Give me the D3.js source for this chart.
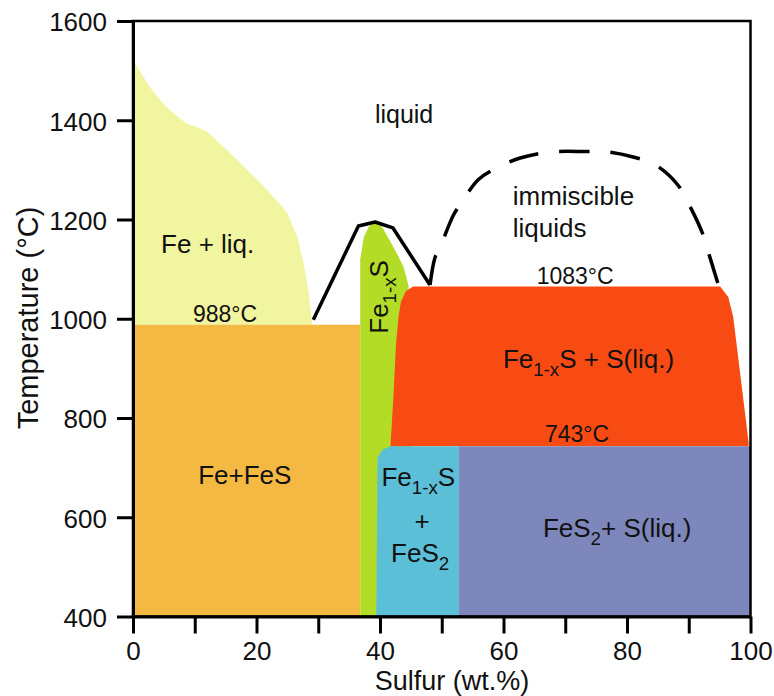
<!DOCTYPE html>
<html>
<head>
<meta charset="utf-8">
<script src="https://cdn.jsdelivr.net/npm/d3@7"></script>
<style>
  body { margin: 0; background: #fff; }
  svg text { font-family: "Liberation Sans", Arial, sans-serif; fill: #111; }
</style>
</head>
<body>
<svg id="chart" width="774" height="696"></svg>
<script>
// phase fields, points are [S wt.%, T °C]
const feLiquid = [[0, 988], [0, 1521], [2.7, 1467], [5.4, 1426], [8.6, 1394], [10.8, 1384], [12, 1377],
  [15.2, 1340], [18.5, 1300], [20.6, 1274], [22.7, 1246], [25, 1213], [26.6, 1165], [27.6, 1113],
  [28.4, 1058], [29, 992], [29, 988]];
const feFeS = [[0, 400], [36.8, 400], [36.8, 988], [0, 988]];
const pyrrhotite = [[36.8, 400], [36.8, 1120], [37.4, 1165], [38.2, 1186], [39.2, 1195], [40.2, 1188],
  [41.7, 1155], [43, 1125], [43.8, 1105], [44.6, 1068], [45, 1000], [45, 400]];
const pyrrhotiteLiq = [[45.4, 1065], [95.1, 1065], [96.4, 1044], [97.2, 1004], [99.7, 750], [99.7, 743],
  [41.7, 743], [42.2, 850], [42.6, 950], [43, 1004], [43.4, 1035], [44.2, 1056]];
const pyrrhotitePyrite = [[39.4, 400], [52.8, 400], [52.8, 743], [41.7, 743], [40.4, 736], [39.6, 720]];
const pyriteLiq = [[52.8, 400], [100, 400], [100, 743], [52.8, 743]];

const liquidus = [[29.2, 998], [36.5, 1187], [39.2, 1195], [42.1, 1183], [48.1, 1068]];
const miscibilityGap = [[48.1, 1068], [48.9, 1123], [49.7, 1143], [51.9, 1209], [53.3, 1236], [55.9, 1280],
  [58.3, 1300], [62.7, 1324], [67.6, 1336], [73.3, 1337], [77, 1336], [81, 1326], [84.6, 1310],
  [88.2, 1270], [90.3, 1224], [92.2, 1173], [93.2, 1133], [94.7, 1072]];

const xTicks = d3.range(0, 101, 10);
const xTickLabels = [0, 20, 40, 60, 80, 100];
const yTicks = [400, 600, 800, 1000, 1200, 1400, 1600];

const fields = [
  { pts: feLiquid, color: '#f1f59f' },
  { pts: feFeS, color: '#f4b942' },
  { pts: pyrrhotite, color: '#b2dc26' },
  { pts: pyrrhotiteLiq, color: '#f84b13' },
  { pts: pyrrhotitePyrite, color: '#5cbfd8' },
  { pts: pyriteLiq, color: '#7d87bb' }
];

// label text, sub = subscript part
const labels = [
  { parts: [['liquid']], at: [43.9, 1394], size: 25, anchor: 'middle' },
  { parts: [['immiscible']], at: [61.5, 1229], size: 26, anchor: 'start' },
  { parts: [['liquids']], at: [61.5, 1164], size: 26, anchor: 'start' },
  { parts: [['Fe + liq.']], at: [12.1, 1132], size: 26, anchor: 'middle' },
  { parts: [['988°C']], at: [14.9, 993], size: 23, anchor: 'middle' },
  { parts: [['1083°C']], at: [71.6, 1070], size: 23, anchor: 'middle' },
  { parts: [['743°C']], at: [71.9, 751], size: 23, anchor: 'middle' },
  { parts: [['Fe'], ['1-x', 1], ['S + S(liq.)']], at: [59.9, 900], size: 26, anchor: 'start' },
  { parts: [['Fe+FeS']], at: [18.1, 667], size: 26, anchor: 'middle' },
  { parts: [['Fe'], ['1-x', 1], ['S']], at: [46.2, 663], size: 26, anchor: 'middle' },
  { parts: [['+']], at: [46.8, 574], size: 26, anchor: 'middle' },
  { parts: [['FeS'], ['2', 1]], at: [46.5, 510], size: 26, anchor: 'middle' },
  { parts: [['FeS'], ['2', 1], ['+ S(liq.)']], at: [78.4, 560], size: 26, anchor: 'middle' },
  { parts: [['Fe'], ['1-x', 1], ['S']], at: [41.3, 1044], size: 26, anchor: 'middle', rotate: true }
];

const margin = { top: 21, left: 133, right: 23.5, bottom: 79.5 };
const width = 774 - margin.left - margin.right;
const height = 696 - margin.top - margin.bottom;

const svg = d3.select('#chart');
const g = svg.append('g').attr('transform', `translate(${margin.left},${margin.top})`);

const x = d3.scaleLinear().domain([0, 100]).range([0, width]);
const y = d3.scaleLinear().domain([400, 1600]).range([height, 0]);

const area = d3.line().x(d => x(d[0])).y(d => y(d[1]));

g.selectAll('path.field')
  .data(fields)
  .enter().append('path')
  .attr('class', 'field')
  .attr('d', d => area(d.pts) + 'Z')
  .attr('fill', d => d.color);

g.append('path')
  .datum(liquidus)
  .attr('fill', 'none')
  .attr('stroke', '#000')
  .attr('stroke-width', 3.5)
  .attr('stroke-linejoin', 'round')
  .attr('d', area);

const dome = g.append('path')
  .datum(miscibilityGap)
  .attr('fill', 'none')
  .attr('stroke', '#000')
  .attr('stroke-width', 3.5)
  .attr('d', d3.line().x(d => x(d[0])).y(d => y(d[1])).curve(d3.curveCatmullRom));
const domeLen = dome.node().getTotalLength();
const dash = domeLen / (9 + 8 * 0.7);
dome.attr('stroke-dasharray', `${dash},${dash * 0.7}`);

// labels
labels.forEach(l => {
  const px = x(l.at[0]), py = y(l.at[1]);
  const t = g.append('text')
    .attr('font-size', l.size)
    .attr('text-anchor', l.anchor);
  if (l.rotate) t.attr('transform', `translate(${px},${py}) rotate(-90)`);
  else t.attr('x', px).attr('y', py);
  let shift = 0;
  l.parts.forEach(p => {
    const sub = p[1] === 1;
    const want = sub ? 8 : 0;
    t.append('tspan')
      .attr('font-size', sub ? l.size * 0.72 : l.size)
      .attr('dy', want - shift)
      .text(p[0]);
    shift = want;
  });
});

// frame
g.append('rect')
  .attr('width', width).attr('height', height)
  .attr('fill', 'none').attr('stroke', '#000').attr('stroke-width', 2.5);

const xAxis = g.append('g')
  .attr('transform', `translate(0,${height})`)
  .call(d3.axisBottom(x).tickValues(xTicks).tickSize(17).tickSizeOuter(0)
    .tickFormat(d => xTickLabels.includes(d) ? d : ''));
xAxis.selectAll('line').attr('stroke-width', 3);
xAxis.select('.domain').attr('stroke-width', 3);
xAxis.selectAll('text').attr('font-size', 26).attr('y', 25).attr('dy', '0.71em')
  .attr('fill', '#111').attr('font-family', '"Liberation Sans", Arial, sans-serif');

const yAxis = g.append('g')
  .call(d3.axisLeft(y).tickValues(yTicks).tickSize(16).tickSizeOuter(0).tickFormat(d3.format('d')));
yAxis.selectAll('line').attr('stroke-width', 3);
yAxis.select('.domain').attr('stroke-width', 3);
yAxis.selectAll('text').attr('font-size', 26).attr('x', -26).attr('dy', '0.38em')
  .attr('fill', '#111').attr('font-family', '"Liberation Sans", Arial, sans-serif');

svg.append('text')
  .attr('x', 452).attr('y', 690)
  .attr('text-anchor', 'middle')
  .attr('font-size', 27)
  .text('Sulfur (wt.%)');

svg.append('text')
  .attr('transform', 'translate(38,318) rotate(-90)')
  .attr('text-anchor', 'middle')
  .attr('font-size', 29)
  .text('Temperature (°C)');
</script>
</body>
</html>
